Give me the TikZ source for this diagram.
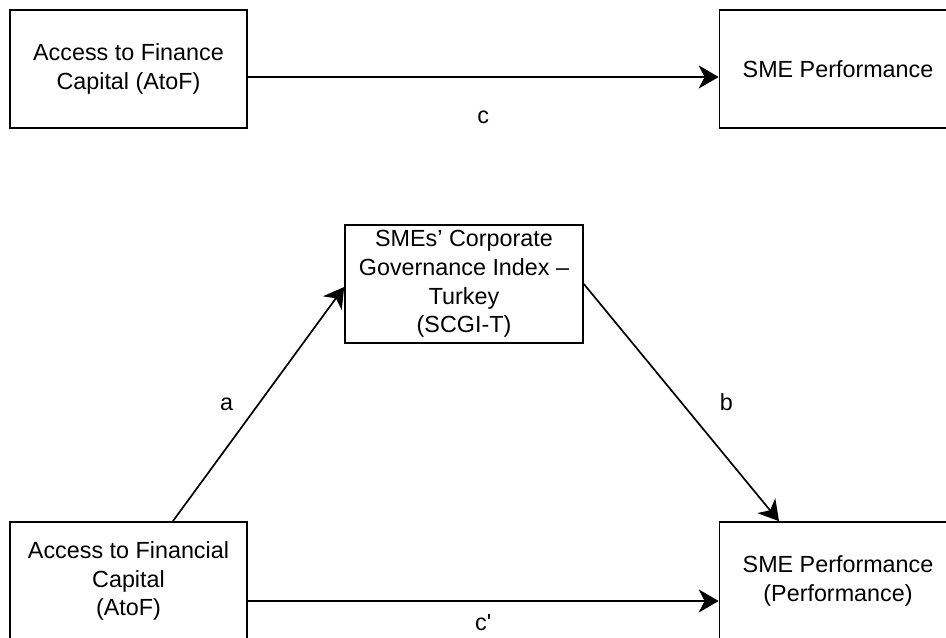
\documentclass[tikz,border=0pt]{standalone}
\usepackage{fontspec}
\setmainfont{Liberation Sans}
\usetikzlibrary{arrows.meta,positioning}
\tikzset{
  varbox/.style={draw, line width=1.2pt, minimum width=5.925cm, minimum height=2.95cm, align=center, inner sep=2pt},
  path/.style={line width=1.2pt, -{Stealth[length=0.5cm, width=0.58cm, inset=0.15cm]}},
}
\begin{document}
\begin{tikzpicture}[font=\fontsize{16.6pt}{20.5pt}\selectfont]
\useasboundingbox (0,0) rectangle (23.65,15.925);
% total effect
\node[varbox] (atof) at (3.2125,14.2) {Access to Finance\\Capital (AtoF)};
\node[varbox] (perf) at (20.95,14.2) {SME Performance};
\draw[path] ([yshift=-0.2cm]atof.east) -- ([yshift=-0.2cm]perf.west) node[midway, yshift=-1cm] (lc) {c};
% mediation model
\node[varbox, minimum width=5.95cm] (scgi) at (11.6,8.825) {SMEs’ Corporate\\Governance Index –\\Turkey\\(SCGI-T)};
\node[varbox] (atofm) at (3.2125,1.4) {Access to Financial\\Capital\\(AtoF)};
\node[varbox] (perfm) at (20.95,1.4) {SME Performance\\(Performance)};
\draw[path] ([xshift=1.11cm]atofm.north) -- ([yshift=-0.075cm]scgi.west) node[midway, xshift=-0.8cm] (la) {a};
\draw[path] (scgi.east) -- ([xshift=-1.475cm]perfm.north) node[midway, xshift=1.125cm] (lb) {b};
\draw[path] ([yshift=-0.5cm]atofm.east) -- ([yshift=-0.5cm]perfm.west) node[midway, yshift=-0.55cm] (lcp) {c\textquotesingle};
\end{tikzpicture}
\end{document}
